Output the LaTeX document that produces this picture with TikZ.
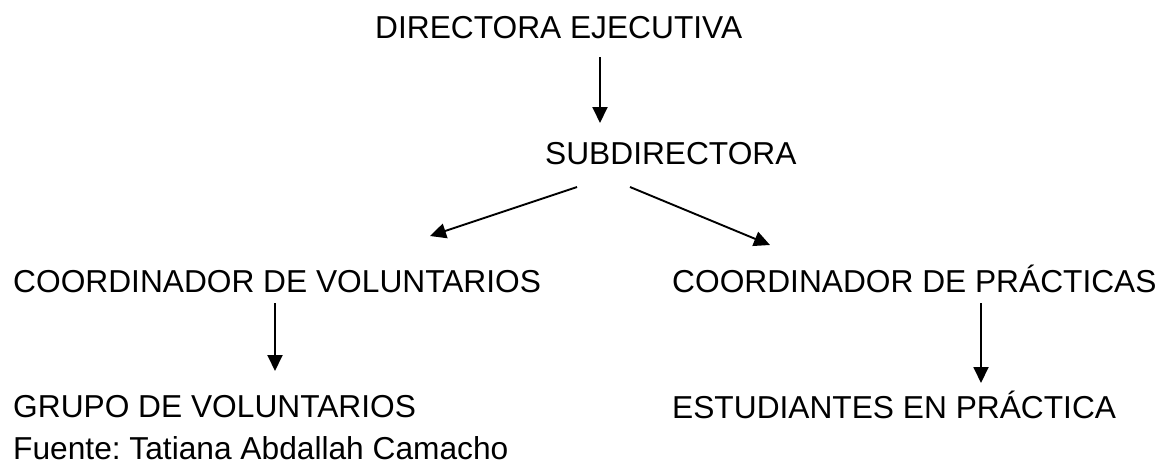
\documentclass[tikz,border=0pt]{standalone}
\usepackage{fontspec}
\setmainfont{Liberation Sans}
\usetikzlibrary{arrows.meta}
\frenchspacing

\begin{document}
\begin{tikzpicture}[x=1pt,y=-1pt,
    lbl/.style={anchor=base west, inner sep=0pt, font=\fontsize{31.7}{36}\selectfont},
    arr/.style={-{Triangle[length=16pt,width=15pt]}, line width=1.9pt}]
  \useasboundingbox (0,0) rectangle (1173,464);

  % Puestos
  \node[lbl] (dir) at (375,38) {DIRECTORA EJECUTIVA};
  \node[lbl] (sub) at (545,164) {SUBDIRECTORA};
  \node[lbl] (vol) at (13,292) {COORDINADOR DE VOLUNTARIOS};
  \node[lbl] (prac) at (672,292) {COORDINADOR DE PRÁCTICAS};
  \node[lbl] (grp) at (13,417) {GRUPO DE VOLUNTARIOS};
  \node[lbl] (est) at (672,418) {ESTUDIANTES EN PRÁCTICA};
  \node[lbl] (src) at (13,459) {Fuente: Tatiana Abdallah Camacho};

  % Flechas
  \draw[arr] ([shift={(225,19)}]dir.base west) -- ([shift={(55,-41)}]sub.base west);
  \draw[arr] ([shift={(32,23)}]sub.base west) -- ([shift={(417,-56)}]vol.base west);
  \draw[arr] ([shift={(85,23)}]sub.base west) -- ([shift={(98,-47)}]prac.base west);
  \draw[arr] ([shift={(262,11)}]vol.base west) -- ([shift={(262,-46)}]grp.base west);
  \draw[arr] ([shift={(309,11)}]prac.base west) -- ([shift={(309,-35)}]est.base west);
\end{tikzpicture}
\end{document}
